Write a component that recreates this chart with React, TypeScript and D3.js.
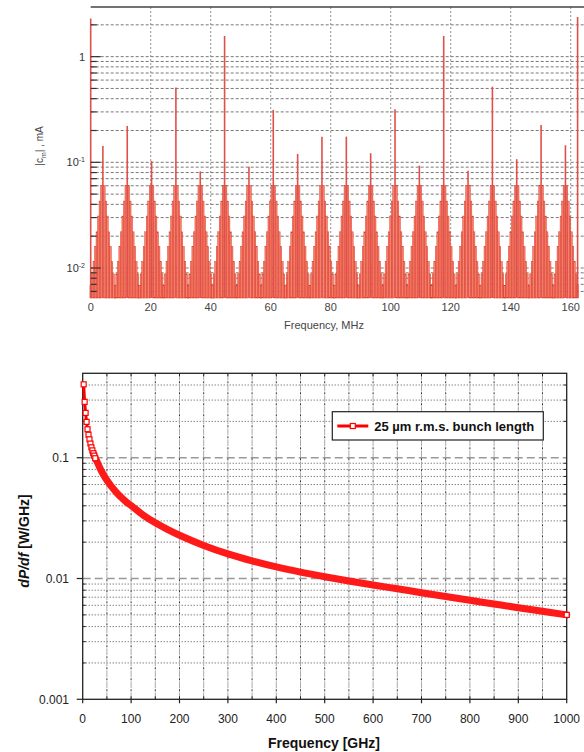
import React from "react";
import * as d3 from "d3";

// ---------- Top chart data (beam current spectrum) ----------
const peakFreqs = [0, 4.06, 12.18, 20.29, 28.4, 36.52, 44.63, 52.75, 60.86, 68.98, 77.09, 85.21, 93.32, 101.44, 109.55, 117.67, 125.78, 133.9, 142.01, 150.13, 158.24, 162.3];
const peakValues = [2.3, 0.143, 0.221, 0.103, 0.51, 0.082, 1.57, 0.091, 0.313, 0.12, 0.175, 0.175, 0.122, 0.318, 0.093, 1.57, 0.083, 0.52, 0.107, 0.226, 0.145, 2.37];
const sidebandSpacing = 0.507; // MHz
const sidebandLevels = [0.06, 0.043, 0.031, 0.022, 0.016, 0.0115, 0.0088, 0.0068];
const topXTicks = [0, 20, 40, 60, 80, 100, 120, 140, 160];

// ---------- Bottom chart data (dP/df) ----------
const freqGHz = [2, 4, 6, 8, 10, 12, 14, 16, 18, 20, 22, 24, 26, 28, 30, 35, 40, 50, 60, 70, 80, 90, 100, 125, 150, 175, 200, 250, 300, 350, 400, 450, 500, 550, 600, 650, 700, 750, 800, 850, 900, 950, 1000];
const dPdf = [0.405, 0.29, 0.235, 0.198, 0.172, 0.155, 0.142, 0.131, 0.122, 0.115, 0.109, 0.104, 0.099, 0.0955, 0.0921, 0.0831, 0.0759, 0.0651, 0.0574, 0.0515, 0.0468, 0.043, 0.0402, 0.0335, 0.0289, 0.0255, 0.0228, 0.0188, 0.016, 0.014, 0.01248, 0.0113, 0.01035, 0.00955, 0.00885, 0.00822, 0.00763, 0.00709, 0.0066, 0.00615, 0.00573, 0.00535, 0.005];
const bottomXTicks = [0, 100, 200, 300, 400, 500, 600, 700, 800, 900, 1000];
const bottomYTicks = [0.1, 0.01, 0.001];
const bottomYLabels = ["0.1", "0.01", "0.001"];
const legendLabel = "25 \u00b5m r.m.s. bunch length";

const W = 584;
const H = 752;

function minorValues(lo: number, hi: number): number[] {
  const out: number[] = [];
  for (let e = -4; e <= 1; e++) {
    for (let m = 1; m <= 9; m++) {
      const v = m * Math.pow(10, e);
      if (v >= lo * 1.0001 && v <= hi * 0.9999) out.push(v);
    }
  }
  return out;
}

function TopChart() {
  const x0 = 90.7, x1 = 584, yTop = 7, yBot = 298;
  const x = d3.scaleLinear().domain([0, (x1 - x0) / 3.0]).range([x0, x1]);
  const y = d3.scaleLog().domain([0.0052, 2.95]).range([yBot, yTop]);
  const grid = minorValues(0.0052, 2.95);
  const bars: { f: number; v: number }[] = [];
  for (let i = 1; i < peakFreqs.length - 1; i++) {
    sidebandLevels.forEach((lv, k) => {
      const n = k + 1;
      bars.push({ f: peakFreqs[i] - n * sidebandSpacing, v: lv });
      bars.push({ f: peakFreqs[i] + n * sidebandSpacing, v: lv });
    });
  }
  const bw = x(sidebandSpacing) - x(0);
  return (
    <g fontFamily="Liberation Sans, Arial, sans-serif">
      {grid.map((v, i) => (
        <line key={"hg" + i} x1={x0} x2={x1} y1={y(v)} y2={y(v)} stroke="#555" strokeWidth={0.8} strokeDasharray="3,2" />
      ))}
      {topXTicks.slice(1).map((t) => (
        <line key={"vg" + t} x1={x(t)} x2={x(t)} y1={yTop} y2={yBot} stroke="#777" strokeWidth={0.8} strokeDasharray="2,2" />
      ))}
      {bars.map((b, i) => (
        <rect key={"b" + i} x={x(b.f) - bw / 2} width={bw} y={y(b.v)} height={yBot - y(b.v)} fill="#f3846f" stroke="#dc3222" strokeWidth={0.45} />
      ))}
      {peakFreqs.map((f, i) => (
        <line key={"p" + i} x1={x(f)} x2={x(f)} y1={yBot} y2={y(peakValues[i])} stroke="#e0504a" strokeWidth={1.6} />
      ))}
      <line x1={x0} x2={x1} y1={yTop} y2={yTop} stroke="#444" strokeWidth={1.5} />
      {grid.map((v, i) => {
        const major = Math.abs(Math.log10(v) - Math.round(Math.log10(v))) < 1e-6;
        return <line key={"yt" + i} x1={x0} x2={x0 + (major ? 10 : 6)} y1={y(v)} y2={y(v)} stroke="#333" strokeWidth={1.2} />;
      })}
      <text x={85} y={y(1) + 4} fontSize={11} fill="#333" textAnchor="end">1</text>
      <text x={85} y={y(0.1) + 4} fontSize={11} fill="#333" textAnchor="end">10<tspan dy={-4} fontSize={7}>-1</tspan></text>
      <text x={85} y={y(0.01) + 4} fontSize={11} fill="#333" textAnchor="end">10<tspan dy={-4} fontSize={7}>-2</tspan></text>
      {topXTicks.map((t) => (
        <text key={"xl" + t} x={x(t)} y={311} fontSize={11} fill="#444" textAnchor="middle">{t}</text>
      ))}
      <text x={324} y={329} fontSize={11} fill="#444" textAnchor="middle">Frequency, MHz</text>
      <text transform={`translate(43,146) rotate(-90)`} fontSize={10} fill="#444" textAnchor="middle">
        |c<tspan dy={3} fontSize={7}>m</tspan><tspan dy={-3}>| , mA</tspan>
      </text>
    </g>
  );
}

function BottomChart() {
  const x0 = 82.7, x1 = 566.7, yTop = 373.3, yBot = 699.3;
  const x = d3.scaleLinear().domain([0, 1000]).range([x0, x1]);
  const y = d3.scaleLog().domain([0.001, 0.5]).range([yBot, yTop]);
  const minor = minorValues(0.001, 0.5).filter((v) => Math.abs(Math.log10(v) - Math.round(Math.log10(v))) > 1e-6);
  const pts = freqGHz.map((f, i) => [f, dPdf[i]] as [number, number]);
  const line = d3.line<[number, number]>().x((d) => x(d[0])).y((d) => y(d[1])).curve(d3.curveCatmullRom.alpha(0.5));
  const bandPts = pts.filter((d) => d[0] >= 22);
  const markerPts = pts.filter((d) => d[0] <= 26);
  const last = pts[pts.length - 1];
  const vgrid = d3.range(50, 1000, 50);
  const ms = 5;
  return (
    <g fontFamily="Liberation Sans, Arial, sans-serif">
      {minor.map((v, i) => (
        <line key={"mg" + i} x1={x0} x2={x1} y1={y(v)} y2={y(v)} stroke="#222" strokeWidth={0.8} strokeDasharray="1,2" />
      ))}
      {[0.1, 0.01].map((v) => (
        <line key={"Mg" + v} x1={x0} x2={x1} y1={y(v)} y2={y(v)} stroke="#999" strokeWidth={1.4} strokeDasharray="8,4" />
      ))}
      {vgrid.map((t) => (
        <g key={"vg" + t}>
          <line x1={x(t)} x2={x(t)} y1={yTop} y2={yBot} stroke="#aaa" strokeWidth={1} strokeDasharray="7,4" />
          <line x1={x(t)} x2={x(t)} y1={yTop} y2={yBot} stroke="#333" strokeWidth={1} strokeDasharray="2,9" strokeDashoffset={-8} />
        </g>
      ))}
      <rect x={x0} y={yTop} width={x1 - x0} height={yBot - yTop} fill="none" stroke="#222" strokeWidth={1.3} />
      {minor.map((v, i) => (
        <g key={"mt" + i}>
          <line x1={x0} x2={x0 + 3} y1={y(v)} y2={y(v)} stroke="#222" strokeWidth={1} />
          <line x1={x1} x2={x1 - 3} y1={y(v)} y2={y(v)} stroke="#222" strokeWidth={1} />
        </g>
      ))}
      {bottomYTicks.map((v, i) => (
        <g key={"yt" + v}>
          <line x1={x0 - 6} x2={x0} y1={y(v)} y2={y(v)} stroke="#222" strokeWidth={1.2} />
          <text x={69} y={y(v) + 4.5} fontSize={12} fill="#222" textAnchor="end">{bottomYLabels[i]}</text>
        </g>
      ))}
      {vgrid.map((t) => (
        <g key={"xt" + t}>
          <line x1={x(t)} x2={x(t)} y1={yBot} y2={yBot - 3} stroke="#222" strokeWidth={1} />
          <line x1={x(t)} x2={x(t)} y1={yTop} y2={yTop + 3} stroke="#222" strokeWidth={1} />
        </g>
      ))}
      {bottomXTicks.map((t) => (
        <g key={"xl" + t}>
          <line x1={x(t)} x2={x(t)} y1={yBot} y2={yBot + 4} stroke="#222" strokeWidth={1.2} />
          <text x={x(t)} y={723} fontSize={12} fill="#222" textAnchor="middle">{t}</text>
        </g>
      ))}
      <path d={line(pts) || ""} fill="none" stroke="#ff0000" strokeWidth={3} />
      <path d={line(bandPts) || ""} fill="none" stroke="#ff1a1a" strokeWidth={7} strokeLinecap="round" />
      {markerPts.map((d, i) => (
        <rect key={"m" + i} x={x(d[0]) - ms / 2} y={y(d[1]) - ms / 2} width={ms} height={ms} fill="#fff" stroke="#ff0000" strokeWidth={1.2} />
      ))}
      <rect x={x(last[0]) - ms / 2} y={y(last[1]) - ms / 2} width={ms} height={ms} fill="#fff" stroke="#ff0000" strokeWidth={1.2} />
      <g>
        <rect x={332.3} y={411.7} width={211} height={28.3} fill="#fff" stroke="#222" strokeWidth={1.2} />
        <line x1={337.3} x2={368.3} y1={426} y2={426} stroke="#ff0000" strokeWidth={3} />
        <rect x={352.8 - ms / 2} y={426 - ms / 2} width={ms} height={ms} fill="#fff" stroke="#ff0000" strokeWidth={1.2} />
        <text x={374.3} y={430.8} fontSize={13} fontWeight="bold" fill="#111">{legendLabel}</text>
      </g>
      <text x={324} y={748} fontSize={14} fontWeight="bold" fill="#111" textAnchor="middle">Frequency [GHz]</text>
      <text transform={`translate(29,541) rotate(-90)`} fontSize={14} fontWeight="bold" fill="#111" textAnchor="middle">
        <tspan fontStyle="italic">dP/df</tspan> [W/GHz]
      </text>
    </g>
  );
}

export default function App() {
  return (
    <svg width={W} height={H} viewBox={`0 0 ${W} ${H}`} style={{ position: "absolute", left: 0, top: 0, background: "#fff" }}>
      <rect width={W} height={H} fill="#fff" />
      <TopChart />
      <BottomChart />
    </svg>
  );
}
